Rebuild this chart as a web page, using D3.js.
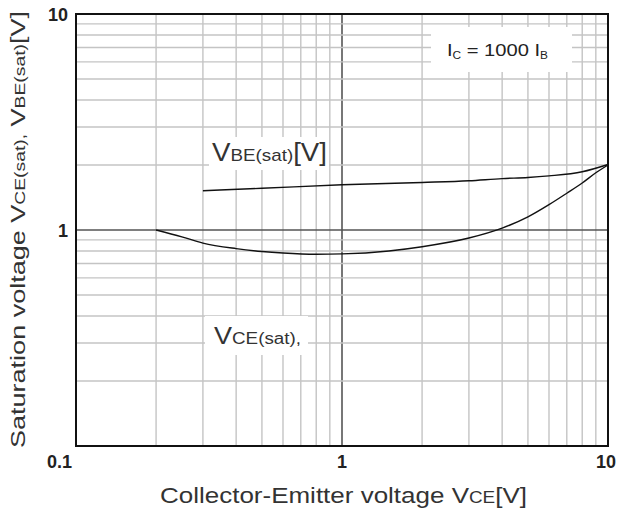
<!DOCTYPE html>
<html>
<head>
<meta charset="utf-8">
<script src="https://d3js.org/d3.v7.min.js"></script>
<style>
  body { margin: 0; background: #fff; }
  text { font-family: "Liberation Sans", Arial, sans-serif; fill: #222; }
</style>
</head>
<body>
<div id="chart"></div>
<script>
// axis ticks
var xTicks = [0.1, 1, 10];
var yTicks = [0.1, 1, 10];
var tickLabels = ["0.1", "1", "10"];

// VCE(sat) curve
var vceX = [0.2, 0.25, 0.3, 0.4, 0.5, 0.6, 0.8, 1, 1.5, 2, 3, 4, 5, 6, 7, 8, 9, 10];
var vceY = [1.0, 0.93, 0.87, 0.82, 0.795, 0.782, 0.772, 0.775, 0.80, 0.837, 0.918, 1.02, 1.15, 1.31, 1.48, 1.65, 1.84, 2.0];

// VBE(sat) curve
var vbeX = [0.3, 0.5, 1, 2, 3, 4, 5, 6, 8, 10];
var vbeY = [1.52, 1.56, 1.62, 1.66, 1.69, 1.73, 1.75, 1.78, 1.86, 2.01];

var W = 619, H = 511;
var margin = {left: 76, right: 11, top: 14, bottom: 65};

var svg = d3.select("#chart").append("svg")
  .attr("width", W).attr("height", H);

var x = d3.scaleLog().domain([0.1, 10]).range([margin.left, W - margin.right]);
var y = d3.scaleLog().domain([0.1, 10]).range([H - margin.bottom, margin.top]);

/* grid */
var grid = svg.append("g");
grid.selectAll(".vx").data(x.ticks()).enter().append("line")
  .attr("x1", d => x(d)).attr("x2", d => x(d))
  .attr("y1", y(10)).attr("y2", y(0.1))
  .attr("stroke", d => d === 1 ? "#555" : "#c4c4c4")
  .attr("stroke-width", d => d === 1 ? 1.6 : 1.4);
grid.selectAll(".hy").data(y.ticks()).enter().append("line")
  .attr("y1", d => y(d)).attr("y2", d => y(d))
  .attr("x1", x(0.1)).attr("x2", x(10))
  .attr("stroke", d => d === 1 ? "#555" : "#c4c4c4")
  .attr("stroke-width", d => d === 1 ? 1.6 : 1.4);

/* white patches behind labels */
svg.append("rect").attr("x", 431).attr("y", 27).attr("width", 141).attr("height", 45).attr("fill", "#fff");
svg.append("rect").attr("x", 209).attr("y", 137).attr("width", 120).attr("height", 33).attr("fill", "#fff");
svg.append("rect").attr("x", 205).attr("y", 316).attr("width", 103).attr("height", 39).attr("fill", "#fff");

/* curves */
var line = d3.line().x(d => x(d[0])).y(d => y(d[1])).curve(d3.curveMonotoneX);
svg.append("path").datum(vceX.map((v, i) => [v, vceY[i]]))
  .attr("d", line).attr("fill", "none").attr("stroke", "#111").attr("stroke-width", 1.4);
svg.append("path").datum(vbeX.map((v, i) => [v, vbeY[i]]))
  .attr("d", line).attr("fill", "none").attr("stroke", "#111").attr("stroke-width", 1.4);

/* frame */
svg.append("rect")
  .attr("x", x(0.1)).attr("y", y(10))
  .attr("width", x(10) - x(0.1)).attr("height", y(0.1) - y(10))
  .attr("fill", "none").attr("stroke", "#111").attr("stroke-width", 2);

/* tick labels */
svg.append("g").selectAll("text").data(xTicks).enter().append("text")
  .attr("x", (d, i) => i === 0 ? x(d) - 4 : (i === 2 ? x(d) - 2 : x(d)))
  .attr("y", 468)
  .attr("text-anchor", (d, i) => i === 0 ? "end" : "middle")
  .style("font-size", "18px").style("font-weight", "bold")
  .text((d, i) => tickLabels[i]);
svg.append("g").selectAll("text").data(yTicks.slice(1)).enter().append("text")
  .attr("x", x(0.1) - 8)
  .attr("y", d => y(d) + 7)
  .attr("text-anchor", "end")
  .style("font-size", "18px").style("font-weight", "bold")
  .text((d, i) => tickLabels[i + 1]);

/* x title */
var xt = svg.append("text").attr("x", 160).attr("y", 503)
  .attr("textLength", 367).attr("lengthAdjust", "spacingAndGlyphs")
  .style("font-size", "22px").style("fill", "#333");
xt.append("tspan").text("Collector-Emitter voltage V");
xt.append("tspan").style("font-size", "16px").text("CE");
xt.append("tspan").text("[V]");

/* y title */
var yt = svg.append("text").attr("transform", "translate(25,448) rotate(-90)")
  .attr("textLength", 437).attr("lengthAdjust", "spacingAndGlyphs")
  .style("font-size", "21px").style("fill", "#333");
yt.append("tspan").text("Saturation voltage  V");
yt.append("tspan").style("font-size", "15px").text("CE(sat),");
yt.append("tspan").text("  V");
yt.append("tspan").style("font-size", "15px").text("BE(sat)");
yt.append("tspan").text("[V]");

/* curve labels */
var lb = svg.append("text").attr("x", 212).attr("y", 161)
  .attr("textLength", 115).attr("lengthAdjust", "spacingAndGlyphs")
  .style("font-size", "25px").style("fill", "#333");
lb.append("tspan").text("V");
lb.append("tspan").style("font-size", "17px").text("BE(sat)");
lb.append("tspan").text("[V]");

var lc = svg.append("text").attr("x", 214).attr("y", 344)
  .attr("textLength", 87).attr("lengthAdjust", "spacingAndGlyphs")
  .style("font-size", "23px").style("fill", "#333");
lc.append("tspan").text("V");
lc.append("tspan").style("font-size", "16px").text("CE(sat),");

var ic = svg.append("text").attr("x", 447).attr("y", 56)
  .attr("textLength", 101).attr("lengthAdjust", "spacingAndGlyphs")
  .style("font-size", "17px");
ic.append("tspan").text("I");
ic.append("tspan").attr("dy", 3).style("font-size", "10px").text("C");
ic.append("tspan").attr("dy", -3).text(" = 1000 I");
ic.append("tspan").attr("dy", 3).style("font-size", "10px").text("B");
</script>
</body>
</html>
